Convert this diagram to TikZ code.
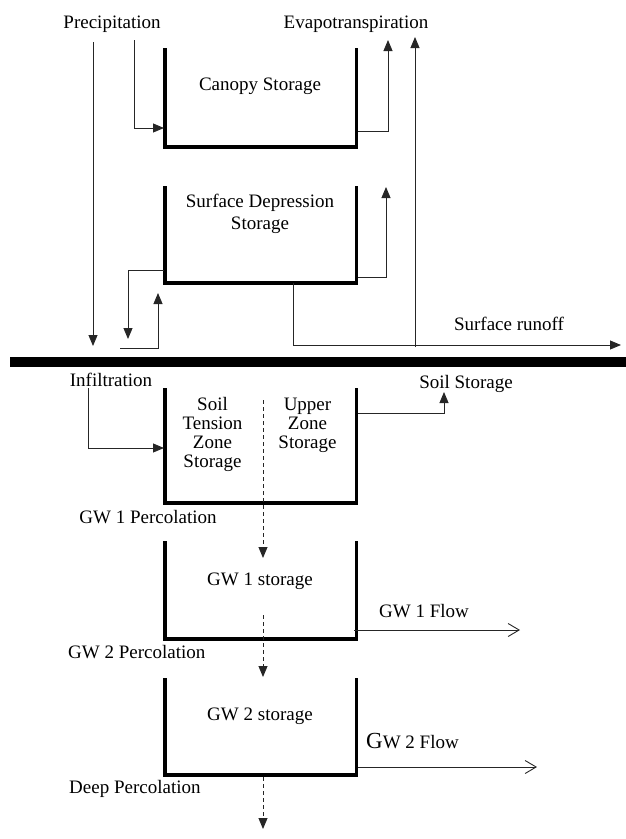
\documentclass[tikz,border=0pt]{standalone}
\usepackage{fontspec}
\setmainfont{Liberation Serif}
\usetikzlibrary{arrows.meta}
\begin{document}
\begin{tikzpicture}[x=1pt,y=-1pt,
  lbl/.style={inner sep=0pt,anchor=base,font=\fontsize{19}{19}\selectfont},
  lblw/.style={lbl,anchor=base west},
  tank/.style={line width=3.3pt,line cap=rect,line join=miter},
  flow/.style={line width=0.9pt,black!85,-{Triangle[length=11pt,width=9pt]}},
  plain/.style={line width=0.9pt,black!85},
  perc/.style={line width=0.9pt,black!85,dash pattern=on 4pt off 3pt,-{Triangle[length=11pt,width=9pt]}},
  outflow/.style={line width=0.9pt,black!85,-{Straight Barb[length=11pt,width=13pt]}}]
\useasboundingbox (0,0) rectangle (626,839);
% ground bar
\coordinate (barL) at (10,361.5);
\coordinate (barR) at (626,361.5);
\draw[line width=10pt] (barL) -- (barR);

% labels
\node[lbl] (prec) at (112,28) {Precipitation};
\node[lbl] (evap) at (356,28) {Evapotranspiration};
\node[lbl] (canopy) at (260,90) {Canopy Storage};
\node[lbl] (sd1) at (260,207) {Surface Depression};
\node[lbl] (sd2) at (260,229) {Storage};
\node[lbl] (runoff) at (509,330) {Surface runoff};
\node[lbl] (infil) at (111,386) {Infiltration};
\node[lbl] (soilst) at (466,388) {Soil Storage};
\node[lbl] (st1) at (212.5,410) {Soil};
\node[lbl] (st2) at (212.5,429) {Tension};
\node[lbl] (st3) at (212.5,448) {Zone};
\node[lbl] (st4) at (212.5,467) {Storage};
\node[lbl] (uz1) at (307.5,410) {Upper};
\node[lbl] (uz2) at (307.5,429) {Zone};
\node[lbl] (uz3) at (307.5,448) {Storage};
\node[lbl] (gw1p) at (148,523) {GW 1 Percolation};
\node[lbl] (gw1s) at (260,585) {GW 1 storage};
\node[lbl] (gw1f) at (424,617) {GW 1 Flow};
\node[lblw] (gw2p) at (68,658) {GW 2 Percolation};
\node[lbl] (gw2s) at (260,720) {GW 2 storage};
\node[lblw] (gw2f) at (366,748) {{\fontsize{23}{23}\selectfont G}W 2 Flow};
\node[lblw] (deep) at (69,793) {Deep Percolation};

% tanks
\coordinate (cTL) at (165,50);  \coordinate (cBL) at (165,147);
\coordinate (cBR) at (356.5,147); \coordinate (cTR) at (356.5,50);
\draw[tank] (cTL) -- (cBL) -- (cBR) -- (cTR);
\coordinate (dTL) at (165,188);  \coordinate (dBL) at (165,283);
\coordinate (dBR) at (356.5,283); \coordinate (dTR) at (356.5,188);
\draw[tank] (dTL) -- (dBL) -- (dBR) -- (dTR);
\coordinate (sTL) at (165,390);  \coordinate (sBL) at (165,503);
\coordinate (sBR) at (356.5,503); \coordinate (sTR) at (356.5,390);
\draw[tank] (sTL) -- (sBL) -- (sBR) -- (sTR);
\coordinate (g1TL) at (165,543);  \coordinate (g1BL) at (165,639);
\coordinate (g1BR) at (356.5,639); \coordinate (g1TR) at (356.5,543);
\draw[tank] (g1TL) -- (g1BL) -- (g1BR) -- (g1TR);
\coordinate (g2TL) at (165,680);  \coordinate (g2BL) at (165,775);
\coordinate (g2BR) at (356.5,775); \coordinate (g2TR) at (356.5,680);
\draw[tank] (g2TL) -- (g2BL) -- (g2BR) -- (g2TR);

% precipitation
\coordinate (p1s) at (93,42);  \coordinate (p1e) at (93,346);
\draw[flow] (p1s) -- (p1e);
\coordinate (p2s) at (134,40); \coordinate (p2k) at (134,128); \coordinate (p2e) at (164,128);
\draw[flow] (p2s) -- (p2k) -- (p2e);

% evapotranspiration
\coordinate (e1s) at (358,131); \coordinate (e1k) at (388,131); \coordinate (e1e) at (388,40);
\draw[flow] (e1s) -- (e1k) -- (e1e);
\coordinate (e2s) at (358,277); \coordinate (e2k) at (386,277); \coordinate (e2e) at (386,187);
\draw[flow] (e2s) -- (e2k) -- (e2e);
\coordinate (e3s) at (415,347); \coordinate (e3e) at (415,37);
\draw[flow] (e3s) -- (e3e);

% surface runoff
\coordinate (r1s) at (293,283); \coordinate (r1k) at (293,345); \coordinate (r1e) at (621,345);
\draw[flow] (r1s) -- (r1k) -- (r1e);

% depression exchange
\coordinate (x1s) at (164,270); \coordinate (x1k) at (128,270); \coordinate (x1e) at (128,339);
\draw[flow] (x1s) -- (x1k) -- (x1e);
\coordinate (x2s) at (120,348); \coordinate (x2k) at (158,348); \coordinate (x2e) at (158,293);
\draw[flow] (x2s) -- (x2k) -- (x2e);

% infiltration
\coordinate (i1s) at (88,388); \coordinate (i1k) at (88,448); \coordinate (i1e) at (164,448);
\draw[flow] (i1s) -- (i1k) -- (i1e);

% soil storage
\coordinate (ss1) at (358,413); \coordinate (ssk) at (444,413); \coordinate (sse) at (444,392);
\draw[flow] (ss1) -- (ssk) -- (sse);

% percolation
\coordinate (d1s) at (263,400); \coordinate (d1e) at (263,558);
\draw[perc] (d1s) -- (d1e);
\coordinate (d2s) at (263,615); \coordinate (d2e) at (263,677);
\draw[perc] (d2s) -- (d2e);
\coordinate (d3s) at (263,777); \coordinate (d3e) at (263,829);
\draw[perc] (d3s) -- (d3e);

% groundwater flows
\coordinate (f1s) at (354,630); \coordinate (f1e) at (520,630);
\draw[outflow] (f1s) -- (f1e);
\coordinate (f2s) at (358,767); \coordinate (f2e) at (537,767);
\draw[outflow] (f2s) -- (f2e);
\end{tikzpicture}
\end{document}
